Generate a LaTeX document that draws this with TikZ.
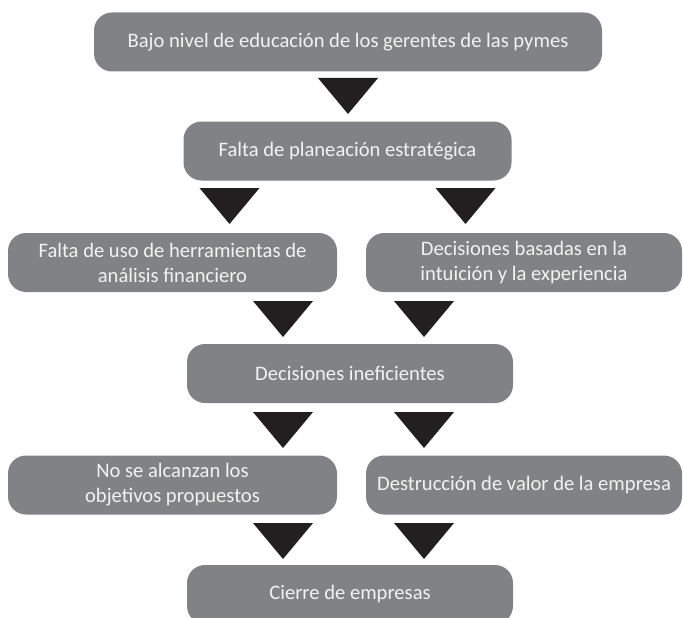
\documentclass[tikz,border=0pt]{standalone}
\usepackage{fontspec}
\setmainfont{Carlito}
\usetikzlibrary{positioning}
\definecolor{cajagris}{RGB}{128,130,133}
\definecolor{flechanegra}{RGB}{35,31,32}
\definecolor{textoclaro}{RGB}{242,242,242}

\begin{document}
\begin{tikzpicture}[
  x=1pt, y=-1pt,
  font=\fontsize{20.6}{25}\selectfont,
  caja/.style={fill=cajagris, text=textoclaro, rounded corners=18pt, align=center, minimum height=59pt, inner sep=2pt},
  ancha/.style={caja, minimum width=508pt},
  media/.style={caja, minimum width=328pt},
  flecha/.pic={\fill[flechanegra] (-30,0) -- (30,0) -- (0,36) -- cycle;}
]
\clip (0,0) rectangle (683,618);

% Cadena de causas
\node[ancha] (bajo) at (348,42) {Bajo nivel de educación de los gerentes de las pymes};
\node[media] (planeacion) at (347.5,151) {Falta de planeación estratégica};
\node[media, minimum width=329pt] (herramientas) at (172.5,262.5) {Falta de uso de herramientas de\\análisis financiero};
\node[media, minimum width=316pt] (intuicion) at (524,262.5) {Decisiones basadas en la\\intuición y la experiencia};
\node[media, minimum width=326pt] (ineficientes) at (350,373.5) {Decisiones ineficientes};
\node[media, minimum width=329pt] (objetivos) at (172.5,485) {No se alcanzan los\\objetivos propuestos};
\node[media, minimum width=316pt] (destruccion) at (524,485) {Destrucción de valor de la empresa};
\node[media, minimum width=326pt] (cierre) at (350,594.5) {Cierre de empresas};

% Flechas triangulares
\pic at (348,78) {flecha};
\pic at (229.5,188) {flecha};
\pic at (465.5,188) {flecha};
\pic at (283,301) {flecha};
\pic at (424,301) {flecha};
\pic at (283,412) {flecha};
\pic at (424,412) {flecha};
\pic at (283,523) {flecha};
\pic at (424,523) {flecha};

\end{tikzpicture}
\end{document}
